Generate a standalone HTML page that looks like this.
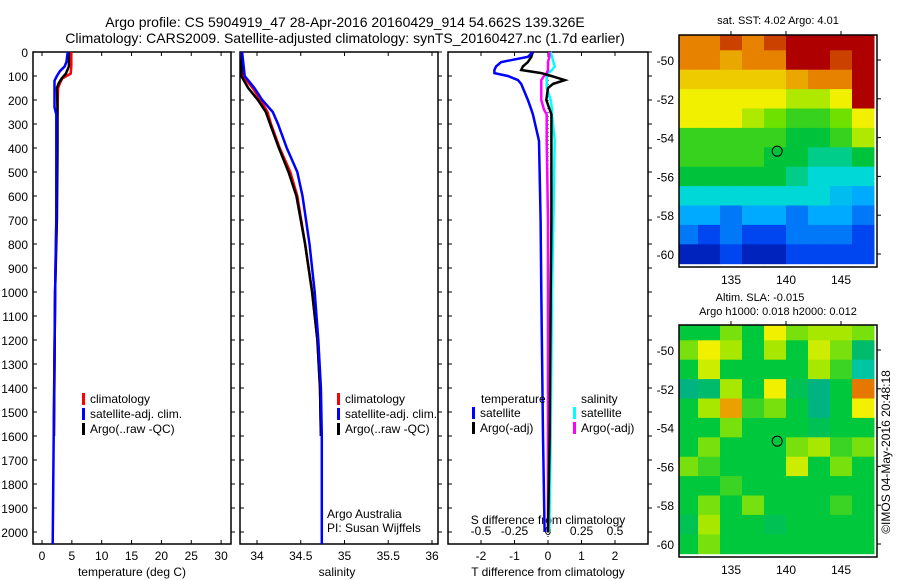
<!DOCTYPE html>
<html><head><meta charset="utf-8"><style>
body{margin:0;background:#fff;}
svg{display:block;font-family:"Liberation Sans",sans-serif;}
</style></head><body>
<svg id="c" width="900" height="580" viewBox="0 0 900 580">
<text x="345" y="27" font-size="14" text-anchor="middle">Argo profile: CS 5904919_47 28-Apr-2016 20160429_914 54.662S 139.326E</text>
<text x="345" y="43" font-size="14" text-anchor="middle">Climatology: CARS2009. Satellite-adjusted climatology: synTS_20160427.nc (1.7d earlier)</text>
</svg>
<script>
// depth profiles
const tDepth=[0,60,90,110,130,150,230,400,700,1000,1300,1600];
const tClim=[4.9,4.9,4.8,3.4,3.0,2.7,2.6,2.5,2.4,2.2,2.1,2.0];
const tDepthSat=[0,40,60,80,100,120,230,260,700,1000,1500,2050];
const tSat=[4.3,4.1,3.8,3.0,2.5,2.1,2.1,2.4,2.4,2.2,2.0,1.8];
const tArgo=[4.5,4.5,4.0,3.3,2.8,2.5,2.6,2.6,2.5,2.2,2.1,2.0];
const sDepth=[0,100,150,200,250,300,400,500,600,800,1000,1200,1400,1600];
const sClim=[33.83,33.84,33.95,34.04,34.12,34.16,34.26,34.38,34.46,34.55,34.63,34.69,34.72,34.73];
const sArgo=[33.83,33.82,33.90,34.01,34.10,34.15,34.25,34.36,34.45,34.55,34.63,34.69,34.72,34.73];
const sDepthSat=[0,100,150,200,250,300,400,500,600,800,1000,1200,1400,1600,2050];
const sSat=[33.83,33.86,33.97,34.06,34.18,34.24,34.34,34.46,34.52,34.60,34.66,34.70,34.73,34.74,34.74];
const dDepth=[0,20,42,60,75,88,100,117,133,150,200,240,260,370,700,1000,1600,2000];
const dTSat=[-0.45,-0.6,-1.4,-1.55,-1.6,-1.6,-1.2,-0.9,-0.8,-0.75,-0.6,-0.5,-0.45,-0.27,-0.22,-0.2,-0.15,-0.1];
const dTArgo=[-0.45,-0.5,-0.6,-0.75,-0.8,-0.2,0.1,0.5,0.15,0.0,-0.05,0.05,0.1,0.1,0.1,0.08,0.05,0.0];
const dSArgo=[0.01,0.01,0.0,0.0,0.0,-0.01,-0.03,-0.05,-0.05,-0.05,-0.05,-0.03,-0.01,-0.01,0,0,0,0];
const dSSat=[0.02,0.03,0.04,0.05,0.03,0.0,-0.01,-0.01,-0.01,-0.01,0.02,0.03,0.03,0.05,0.04,0.03,0.02,0.01];
const depthTicks=[0,100,200,300,400,500,600,700,800,900,1000,1100,1200,1300,1400,1500,1600,1700,1800,1900,2000];
const tTicks=[0,5,10,15,20,25,30];
const sTicks=[34,34.5,35,35.5,36];
const dTTicks=[-2,-1,0,1,2];
const dSTicks=[-0.5,-0.25,0,0.25,0.5];
const dSTickLabels=["-0.5","-0.25","0","0.25","0.5"];
// maps: rows lat -49..-60, cols lon 131..147 step 2
const mapLats=[-49,-50,-51,-52,-53,-54,-55,-56,-57,-58,-59,-60];
const mapLons=[131,133,135,137,139,141,143,145,147];
const sstGrid=[
[8,8,8.5,8,8.5,9,9,9,9],
[8,8,7.5,8,8,9,9,8.5,9],
[7,7,7,7,7,7.5,8,8,9],
[6.5,6.5,6.5,6.5,6.5,6,6,6.5,9],
[6.5,6.5,6.5,6,5.5,5,5,5.5,6.5],
[5,5,5,5,5,4.5,4.5,5,6],
[5,5,5,5,4.5,4.5,4,4,4.5],
[4.5,4.5,4.5,4.5,4.5,4,3.5,3.5,3.5],
[3.5,3.5,3.5,3.5,3.5,3.5,3.5,3.2,3],
[3,3,2.5,3,3,2.5,3,3,2.5],
[2.5,2,2.5,2,2,2.5,2.5,2.5,2],
[1.5,1.5,2,1.5,1.5,2,2,2,2]];
const slaGrid=[
[0,0,0.2,0,0.5,0.2,0.3,0.3,0.2],
[0.2,0.5,0.3,0,0.3,0,0.4,0.2,-0.2],
[0,0.4,0,0,0,0,0.3,0.1,-0.4],
[-0.3,-0.2,0.3,0,0.5,-0.1,-0.3,0,0.8],
[0,0.3,0.7,0.1,0.2,0,-0.3,0,0.5],
[0,0,0.2,0,0,0,-0.1,0,0],
[0,0.2,0,0,0,0.2,0.3,0.1,0.2],
[0.2,0.1,0,0,0,0.4,0,0.2,0],
[0,0,0.1,0,0,0,0,0,0],
[0,0.2,0,0.2,0,0,0,0.1,0],
[-0.1,0.3,0,0,-0.1,0,0,0,0],
[0,0.2,0,0,0,0,0,0,0]];
const mapLatTicks=[-50,-52,-54,-56,-58,-60];
const mapLonTicks=[135,140,145];
const argoPos=[139.2,-54.7];

const svg=document.getElementById('c');
const NS='http://www.w3.org/2000/svg';
function mk(tag,at,parent){const e=document.createElementNS(NS,tag);for(const k in at)e.setAttribute(k,at[k]);(parent||svg).appendChild(e);return e;}
const Y=d=>52+d*0.24;
function pathOf(xs,ds,fx){return ds.map((d,i)=>(i?'L':'M')+fx(xs[i]).toFixed(1)+','+Y(d).toFixed(1)).join('');}
function panel(x0,x1,name){
  const r=mk('rect',{x:x0,y:52,width:x1-x0,height:492,fill:'none',stroke:'#000','stroke-width':1.5});
  
  
  depthTicks.forEach(d=>{mk('line',{x1:x0,x2:x0+4,y1:Y(d),y2:Y(d),stroke:'#000'});mk('line',{x1:x1,x2:x1+4,y1:Y(d),y2:Y(d),stroke:'#000'});});
}
function line(xs,ds,fx,col,name,w){const p=mk('path',{d:pathOf(xs,ds,fx),fill:'none',stroke:col,'stroke-width':w||2.5});
  
  }
function txt(x,y,s,size,anchor,name){const t=mk('text',{x:x,y:y,'font-size':size,'text-anchor':anchor||'start'});t.textContent=s;
  
  return t;}
function legend(x,y,items){items.forEach((it,i)=>{mk('rect',{x:x,y:y+i*15-10,width:3,height:12,fill:it[1]});txt(x+8,y+i*15,it[0],12,'start','legend-entry');});}

// panel 1 temperature
const fT=v=>42+v*5.97;
panel(33,231,'temperature-panel');
depthTicks.forEach(d=>txt(28,Y(d)+5,String(d),12,'end','y-tick-label'));
tTicks.forEach(v=>{mk('line',{x1:fT(v),x2:fT(v),y1:544,y2:540,stroke:'#000'});mk('line',{x1:fT(v),x2:fT(v),y1:52,y2:56,stroke:'#000'});txt(fT(v),560,String(v),12,'middle','x-tick-label');});
txt(132,576,'temperature (deg C)',12,'middle','x-axis-title');
line(tClim,tDepth,fT,'#f00','temp-climatology');
line(tArgo,tDepth,fT,'#000','temp-argo');
line(tSat,tDepthSat,fT,'#00f','temp-satellite-adj');
legend(82,403,[['climatology','#f00'],['satellite-adj. clim.','#00f'],['Argo(..raw -QC)','#000']]);

// panel 2 salinity
const fS=v=>257+(v-34)*87.5;
panel(240,438,'salinity-panel');
sTicks.forEach(v=>{mk('line',{x1:fS(v),x2:fS(v),y1:544,y2:540,stroke:'#000'});mk('line',{x1:fS(v),x2:fS(v),y1:52,y2:56,stroke:'#000'});txt(fS(v),560,String(v),12,'middle','x-tick-label');});
txt(337,576,'salinity',12,'middle','x-axis-title');
line(sClim,sDepth,fS,'#f00','sal-climatology');
line(sArgo,sDepth,fS,'#000','sal-argo');
line(sSat,sDepthSat,fS,'#00f','sal-satellite-adj');
legend(337,403,[['climatology','#f00'],['satellite-adj. clim.','#00f'],['Argo(..raw -QC)','#000']]);
txt(327,518,'Argo Australia',12,'start','credit-text');
txt(327,532,'PI: Susan Wijffels',12,'start','credit-text');

// panel 3 differences
const fD=v=>548+v*33.5;
const fDS=v=>548+v*134;
panel(448,648,'difference-panel');
dTTicks.forEach(v=>{mk('line',{x1:fD(v),x2:fD(v),y1:544,y2:540,stroke:'#000'});mk('line',{x1:fD(v),x2:fD(v),y1:52,y2:56,stroke:'#000'});txt(fD(v),560,String(v),12,'middle','x-tick-label');});
dSTicks.forEach((v,i)=>txt(fDS(v),535,dSTickLabels[i],12,'middle','s-tick-label'));
txt(548,524,'S difference from climatology',12,'middle','s-axis-title');
txt(548,576,'T difference from climatology',12,'middle','x-axis-title');
mk('line',{x1:fD(0),x2:fD(0),y1:52,y2:544,stroke:'#000','stroke-dasharray':'1,3'});
line(dSSat,dDepth,fDS,'#0ff','sdiff-satellite');
line(dSArgo,dDepth,fDS,'#f0f','sdiff-argo');
line(dTArgo,dDepth,fD,'#000','tdiff-argo');
line(dTSat,dDepth,fD,'#00f','tdiff-satellite');
txt(481,403,'temperature',12,'start','legend-title');
txt(581,403,'salinity',12,'start','legend-title');
legend(472,417,[['satellite','#00f'],['Argo(-adj)','#000']]);
legend(573,417,[['satellite','#0ff'],['Argo(-adj)','#f0f']]);

// piecewise colormaps
const sstStopV=[1,2,3,3.5,4.5,5.5,6.5,8,9];
const sstStopC=[[0,0,140],[0,70,240],[0,170,255],[0,215,215],[0,195,60],[110,225,0],[240,240,0],[230,130,0],[175,0,0]];
const slaStopV=[-0.6,-0.3,0,0.25,0.5,0.8];
const slaStopC=[[0,230,230],[0,180,130],[0,200,60],[150,230,0],[240,240,0],[230,120,0]];
function cmap(v,sv,sc){if(v<=sv[0])return 'rgb('+sc[0]+')';for(let i=1;i<sv.length;i++){if(v<=sv[i]){const f=(v-sv[i-1])/(sv[i]-sv[i-1]);return 'rgb('+sc[i].map((c,k)=>Math.round(sc[i-1][k]+(c-sc[i-1][k])*f)).join(',')+')';}}return 'rgb('+sc[sc.length-1]+')';}
function map(top,bot0,grid,sv,sc,name){
  const fx=lon=>731+(lon-135)*11;
  const yA=top+25;const fy=lat=>yA+(-50-lat)*19.4;
  mapLats.forEach((lat,i)=>mapLons.forEach((lon,j)=>{
    const x0=Math.max(679,fx(lon-1)),x1=Math.min(877,fx(lon+1));
    const y0=Math.max(top,fy(lat+0.5)),y1=fy(lat-0.5);
    const c=mk('rect',{x:x0,y:y0,width:x1-x0+0.5,height:y1-y0+0.5,fill:cmap(grid[i][j],sv,sc)});
    
    
  }));
  const r=mk('rect',{x:679,y:top,width:198,height:bot0-top,fill:'none',stroke:'#000','stroke-width':1.5});
  
  
  mapLatTicks.forEach(l=>{mk('line',{x1:877,x2:881,y1:fy(l),y2:fy(l),stroke:'#000'});txt(674,fy(l)+5,String(l),12,'end','map-lat-label');});
  mapLonTicks.forEach(l=>{mk('line',{x1:fx(l),x2:fx(l),y1:top,y2:top-4,stroke:'#000'});txt(fx(l),bot0+17,String(l),12,'middle','map-lon-label');});
  const m=mk('circle',{cx:fx(argoPos[0]),cy:fy(argoPos[1]),r:5,fill:'none',stroke:'#000'});
  
  
}
map(35,267,sstGrid,sstStopV,sstStopC,'sst-map');
txt(778,24,'sat. SST: 4.02  Argo: 4.01',11,'middle','sst-map-title');
map(325,557,slaGrid,slaStopV,slaStopC,'sla-map');
txt(760,301,'Altim. SLA: -0.015',11,'middle','sla-map-title');
txt(778,315,'Argo h1000: 0.018  h2000: 0.012',11,'middle','sla-map-subtitle');
const v=txt(0,0,'©IMOS 04-May-2016 20:48:18',12,'middle','timestamp');
v.setAttribute('transform','translate(890,452) rotate(-90)');
</script>
</body></html>
